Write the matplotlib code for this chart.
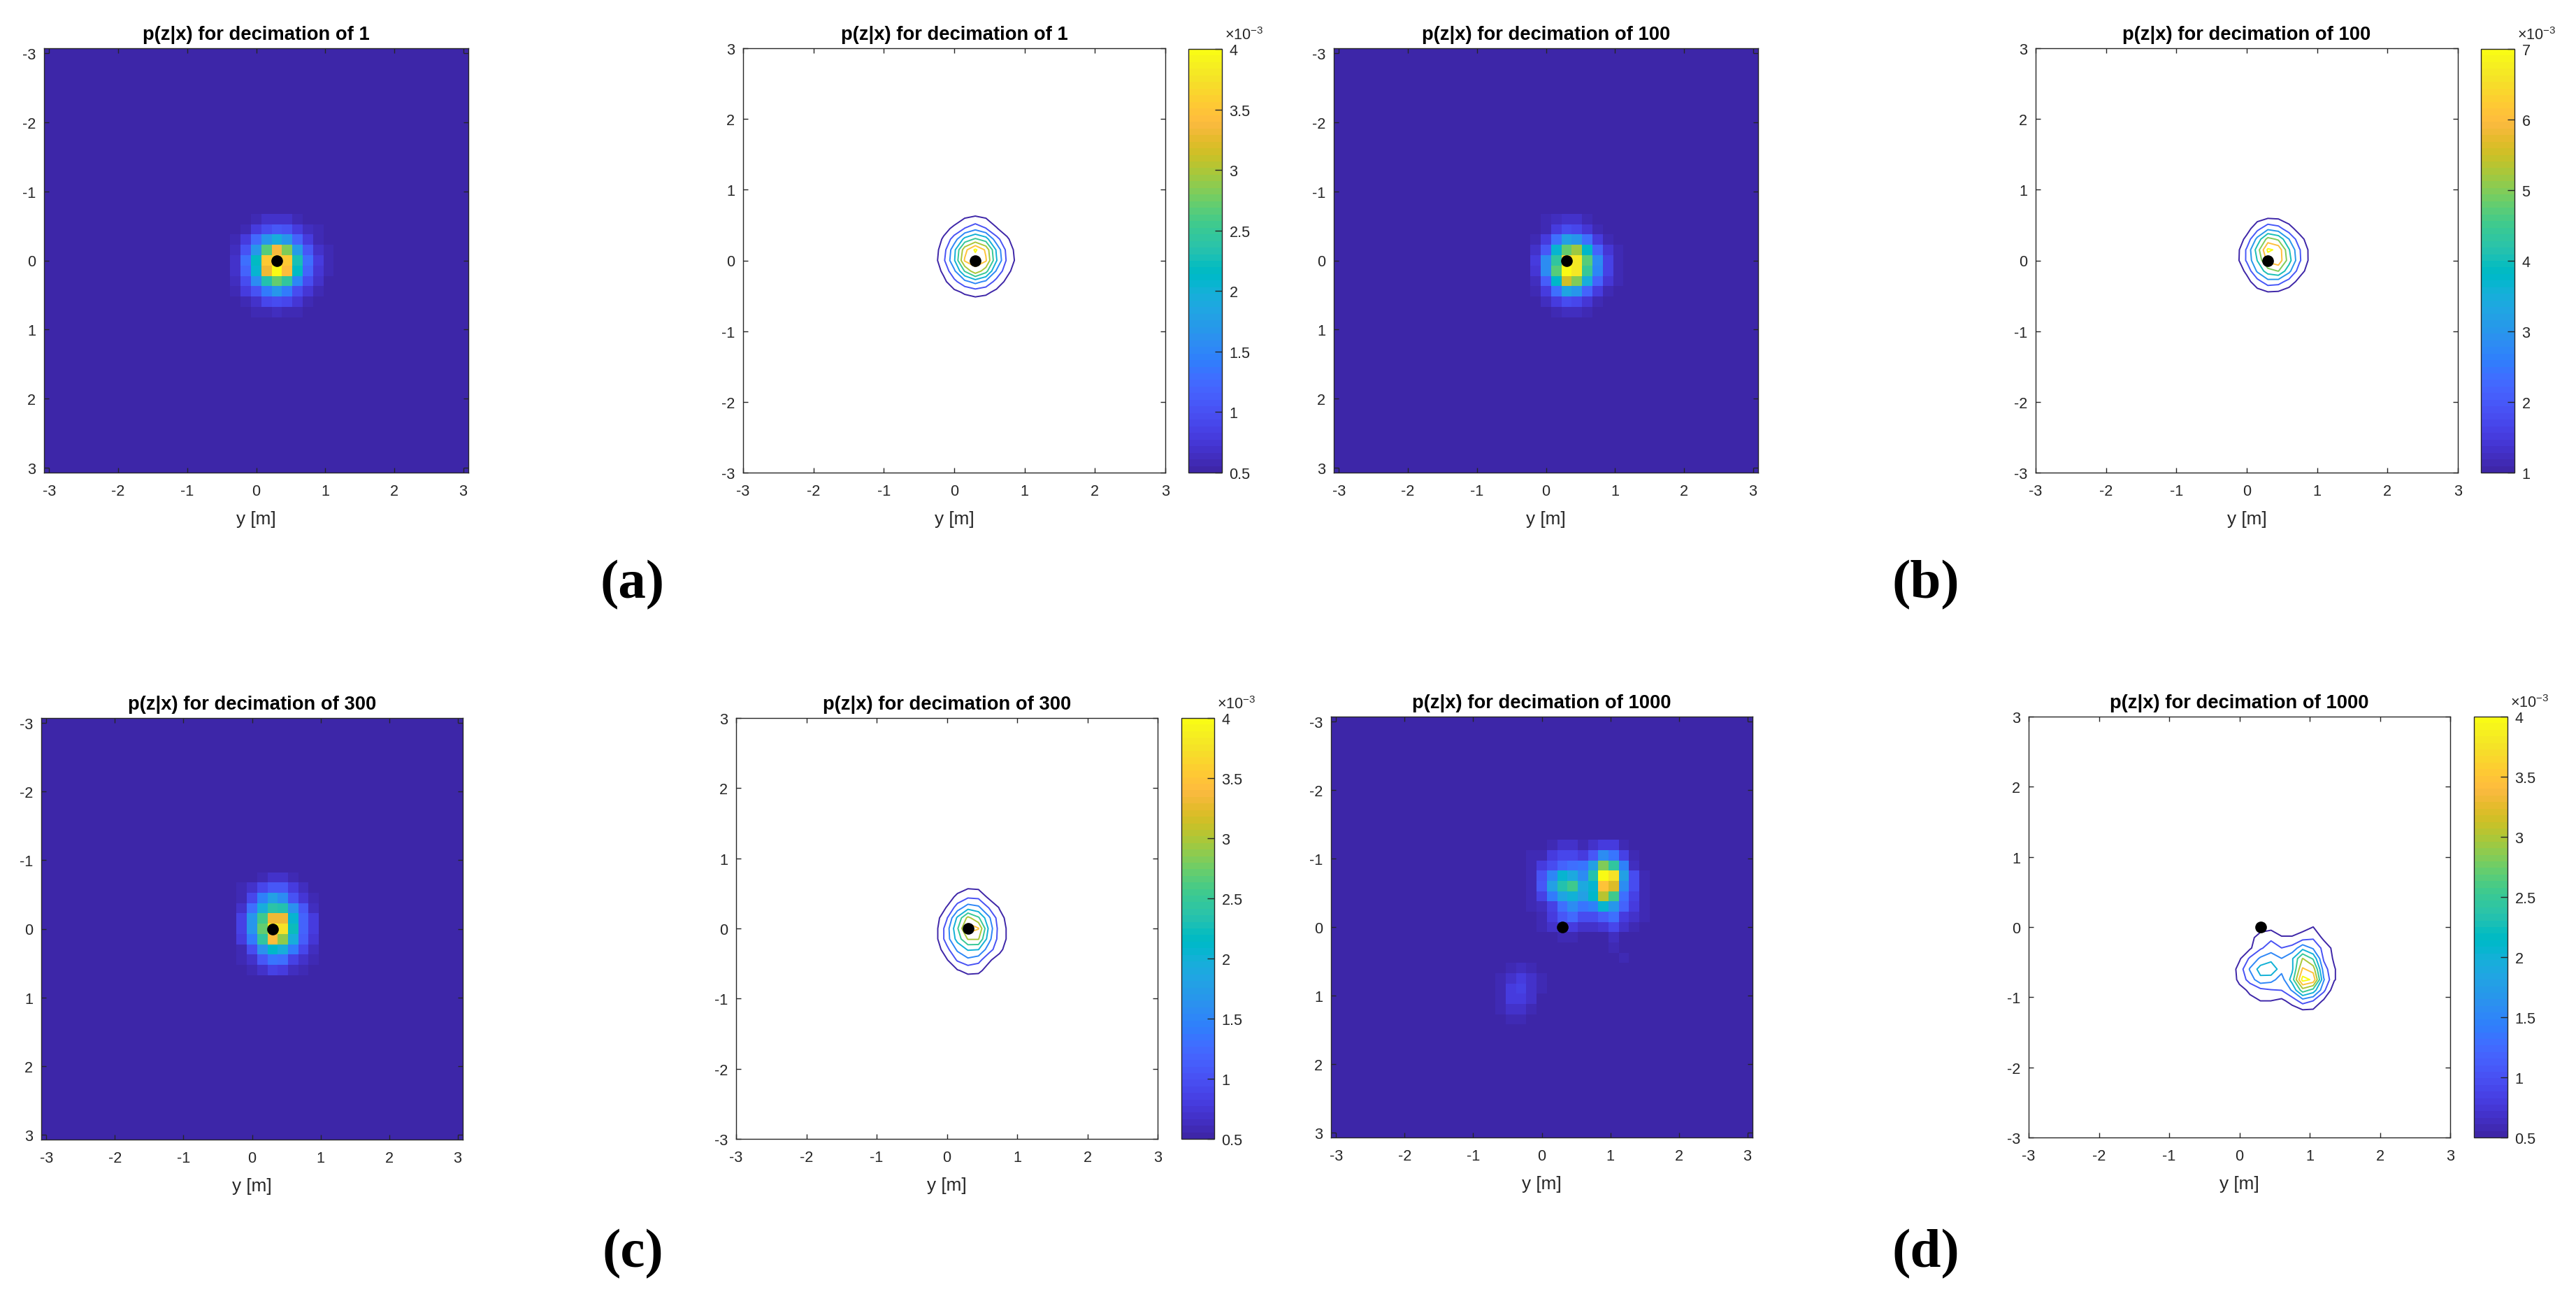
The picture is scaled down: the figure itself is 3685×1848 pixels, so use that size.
import numpy as np
import matplotlib
matplotlib.use("Agg")
import matplotlib.pyplot as plt
from matplotlib.colors import ListedColormap, Normalize
from matplotlib.cm import ScalarMappable

plt.rcParams['font.family'] = ['Liberation Sans', 'DejaVu Sans']
plt.rcParams['mathtext.fontset'] = 'custom'
plt.rcParams['mathtext.rm'] = 'Liberation Sans'
plt.rcParams['axes.unicode_minus'] = False

# ======================================================
# DATA (heatmap cells around the peak, as fraction of the peak)
# ======================================================
grid = np.arange(-3, 3.01, 0.15)
decimations = [1, 100, 300, 1000]
subfig_labels = ['(a)', '(b)', '(c)', '(d)']
point_xy = (0.3, 0.0)
peaks = [4.1, 7.2, 3.8, 4.2]          # x 10^-3
level_lists = [
    [0.5, 1, 1.5, 2, 2.5, 3, 3.5, 4],
    [1, 2, 3, 4, 5, 6, 7],
    [0.5, 1, 1.5, 2, 2.5, 3, 3.5, 4],
    [0.5, 1, 1.5, 2, 2.5, 3, 3.5, 4],
]
cbar_ticks = [
    [0.5, 1, 1.5, 2, 2.5, 3, 3.5, 4],
    [1, 2, 3, 4, 5, 6, 7],
    [0.5, 1, 1.5, 2, 2.5, 3, 3.5, 4],
    [0.5, 1, 1.5, 2, 2.5, 3, 3.5, 4],
]

# first column / first row index of each patch in the 41x41 grid
a_start = (17, 16)
a_vals = [
    [0, 0, 0, .03, .05, .06, .05, .02, 0, 0, 0],
    [0, 0, .03, .09, .14, .17, .15, .09, .04, .02, 0],
    [0, .02, .09, .21, .33, .41, .34, .20, .09, .03, 0],
    [0, .04, .15, .34, .62, .82, .66, .35, .16, .05, .02],
    [.015, .05, .22, .47, .87, .90, .87, .50, .22, .08, .02],
    [0, .05, .19, .45, .81, 1.0, .83, .47, .20, .07, .02],
    [0, .04, .14, .30, .53, .63, .55, .29, .14, .05, .01],
    [0, .02, .08, .15, .25, .33, .25, .13, .07, .02, 0],
    [0, 0, .03, .06, .12, .14, .12, .07, .03, 0, 0],
    [0, 0, 0, .02, .03, .04, .03, .02, 0, 0, 0],
]

b_start = (19, 16)
b_vals = [
    [0, .02, .04, .05, .05, .02, 0, 0, 0],
    [.015, .03, .09, .13, .12, .07, .03, .015, 0],
    [.02, .09, .22, .36, .34, .22, .09, .03, .015],
    [.05, .17, .44, .63, .70, .46, .20, .07, .02],
    [.08, .30, .56, .88, .94, .62, .30, .10, .03],
    [.07, .30, .62, 1.0, .94, .57, .29, .10, .03],
    [.04, .18, .46, .75, .67, .42, .19, .07, .02],
    [.02, .08, .23, .38, .33, .19, .08, .03, .01],
    [0, .04, .09, .13, .12, .07, .03, .015, 0],
    [0, .01, .03, .04, .04, .03, .01, 0, 0],
]

c_start = (18, 14)
c_vals = [
    [0, 0, 0, 0, .015, .015, 0, 0, 0, 0],
    [0, 0, .015, .03, .06, .06, .03, .015, 0, 0],
    [0, .02, .05, .12, .17, .16, .08, .04, .015, 0],
    [0, .03, .12, .28, .36, .31, .15, .07, .02, 0],
    [.01, .06, .22, .42, .54, .53, .32, .17, .04, .015],
    [.015, .10, .33, .58, .80, .80, .44, .20, .09, .015],
    [.015, .10, .33, .64, 1.0, .93, .49, .20, .09, .015],
    [.015, .08, .25, .55, .83, .68, .42, .18, .07, .015],
    [0, .03, .14, .32, .46, .42, .25, .12, .04, .01],
    [0, .02, .05, .17, .24, .23, .10, .05, .02, 0],
    [0, 0, .02, .05, .10, .09, .04, .02, 0, 0],
    [0, 0, 0, 0, .01, .01, .01, 0, 0, 0],
]

d_start = (15, 12)
d_vals = [
    [0, 0, 0, 0, 0, 0, .03, .05, .05, .03, .05, .09, .09, .02, 0, 0],
    [0, 0, 0, 0, .02, .03, .09, .12, .12, .09, .17, .30, .24, .10, .02, 0],
    [0, 0, 0, .01, .03, .08, .14, .20, .23, .24, .37, .66, .55, .27, .04, 0],
    [0, 0, 0, .01, .03, .15, .29, .44, .40, .30, .53, 1.0, .93, .37, .13, .03],
    [0, 0, 0, .01, .02, .17, .37, .53, .58, .40, .45, .85, .78, .30, .13, .03],
    [0, 0, 0, .01, .03, .10, .26, .38, .43, .36, .46, .72, .58, .22, .10, .03],
    [0, 0, 0, 0, .02, .04, .10, .22, .30, .24, .28, .44, .34, .20, .08, .03],
    [0, 0, 0, 0, 0, .03, .09, .16, .21, .13, .13, .18, .22, .09, .05, .02],
    [0, 0, 0, 0, 0, .02, .06, .08, .08, .05, .05, .07, .12, .05, .03, 0],
    [0, 0, 0, 0, 0, .01, .01, .03, .03, .01, .01, .01, .04, .01, 0, 0],
    [0, 0, 0, 0, 0, 0, 0, 0, 0, 0, 0, 0, .02, .005, 0, 0],
    [0, 0, 0, 0, 0, 0, 0, 0, 0, 0, 0, 0, 0, .02, 0, 0],
    [0, .015, .02, .04, .02, 0, 0, 0, 0, 0, 0, 0, 0, 0, 0, 0],
    [0, .02, .05, .08, .05, .02, 0, 0, 0, 0, 0, 0, 0, 0, 0, 0],
    [.015, .03, .085, .095, .05, .02, 0, 0, 0, 0, 0, 0, 0, 0, 0, 0],
    [.015, .03, .08, .08, .05, 0, 0, 0, 0, 0, 0, 0, 0, 0, 0, 0],
    [0, .02, .05, .05, .03, 0, 0, 0, 0, 0, 0, 0, 0, 0, 0, 0],
    [0, .012, .02, .02, 0, 0, 0, 0, 0, 0, 0, 0, 0, 0, 0, 0],
]

patches = [(a_start, a_vals), (b_start, b_vals), (c_start, c_vals), (d_start, d_vals)]

# parula, as shipped by matlab
parula = ListedColormap([
    [0.2422, 0.1504, 0.6603], [0.2504, 0.1650, 0.7076], [0.2578, 0.1818, 0.7511], [0.2647, 0.1978, 0.7952],
    [0.2706, 0.2147, 0.8364], [0.2751, 0.2342, 0.8710], [0.2783, 0.2559, 0.8991], [0.2803, 0.2782, 0.9221],
    [0.2813, 0.3006, 0.9414], [0.2810, 0.3228, 0.9579], [0.2795, 0.3447, 0.9717], [0.2760, 0.3667, 0.9829],
    [0.2699, 0.3892, 0.9906], [0.2602, 0.4123, 0.9952], [0.2440, 0.4358, 0.9988], [0.2206, 0.4603, 0.9973],
    [0.1963, 0.4847, 0.9892], [0.1834, 0.5074, 0.9798], [0.1786, 0.5289, 0.9682], [0.1764, 0.5499, 0.9520],
    [0.1687, 0.5703, 0.9359], [0.1540, 0.5902, 0.9218], [0.1460, 0.6091, 0.9079], [0.1380, 0.6276, 0.8973],
    [0.1248, 0.6459, 0.8883], [0.1113, 0.6635, 0.8763], [0.0952, 0.6798, 0.8598], [0.0689, 0.6948, 0.8394],
    [0.0297, 0.7082, 0.8163], [0.0036, 0.7203, 0.7917], [0.0067, 0.7312, 0.7660], [0.0433, 0.7411, 0.7394],
    [0.0964, 0.7500, 0.7120], [0.1408, 0.7584, 0.6842], [0.1717, 0.7670, 0.6554], [0.1938, 0.7758, 0.6251],
    [0.2161, 0.7843, 0.5923], [0.2470, 0.7918, 0.5567], [0.2906, 0.7973, 0.5188], [0.3406, 0.8008, 0.4789],
    [0.3909, 0.8029, 0.4354], [0.4456, 0.8024, 0.3909], [0.5044, 0.7993, 0.3480], [0.5616, 0.7942, 0.3045],
    [0.6174, 0.7876, 0.2612], [0.6720, 0.7793, 0.2227], [0.7242, 0.7698, 0.1910], [0.7738, 0.7598, 0.1646],
    [0.8203, 0.7498, 0.1535], [0.8634, 0.7406, 0.1596], [0.9035, 0.7330, 0.1774], [0.9393, 0.7288, 0.2100],
    [0.9728, 0.7298, 0.2394], [0.9956, 0.7434, 0.2371], [0.9970, 0.7659, 0.2199], [0.9952, 0.7893, 0.2028],
    [0.9892, 0.8136, 0.1885], [0.9786, 0.8386, 0.1766], [0.9676, 0.8639, 0.1643], [0.9610, 0.8890, 0.1537],
    [0.9597, 0.9135, 0.1423], [0.9628, 0.9373, 0.1265], [0.9691, 0.9606, 0.1064], [0.9769, 0.9839, 0.0805],
])

# ======================================================
# LAYOUT (pixels: left, right, top, bottom)
# ======================================================
W, H = 3685, 1849
image_boxes = [(63, 670, 70, 677), (1908, 2515, 70, 677), (59, 662, 1028, 1631), (1904, 2507, 1026, 1628)]
contour_boxes = [(1063, 1667, 70, 677), (2912, 3516, 70, 677), (1053, 1656, 1028, 1630), (2902, 3505, 1026, 1628)]
cbar_boxes = [(1700, 1748, 71, 677), (3549, 3597, 71, 677), (1690, 1737, 1028, 1630), (3539, 3587, 1026, 1628)]
label_pos = [(905, 837), (2755, 837), (905, 1794), (2755, 1794)]

fig = plt.figure(figsize=(W / 100, H / 100), dpi=100)


def add_box(box):
    l, r, t, b = box
    return fig.add_axes([l / W, 1 - b / H, (r - l) / W, (b - t) / H])


def style(ax):
    ax.tick_params(direction='in', length=5, width=1.0, color='#262626', labelcolor='#262626',
                   labelsize=15.6, top=True, right=True)
    ax.tick_params(axis='x', pad=11.5)
    ax.tick_params(axis='y', pad=8.5)
    for s in ax.spines.values():
        s.set_linewidth(1.0)
        s.set_color('#262626')
    ax.set_xticks(np.arange(-3, 4))
    ax.set_yticks(np.arange(-3, 4))
    ax.set_xlabel('y [m]', fontsize=18.8, color='#262626', labelpad=12)


# ======================================================
# DRAW PANELS
# ======================================================
for k, ((i0, j0), vals) in enumerate(patches):
    vals = np.array(vals)
    z = np.zeros((grid.size, grid.size))
    z[j0:j0 + vals.shape[0], i0:i0 + vals.shape[1]] = vals * peaks[k]
    title = f'p(z|x) for decimation of {decimations[k]}'

    # image panel
    ax = add_box(image_boxes[k])
    ax.imshow(z, extent=(-3.075, 3.075, 3.075, -3.075), aspect='auto', cmap=parula,
              vmin=z.min(), vmax=z.max(), interpolation='nearest')
    ax.plot(point_xy[0], point_xy[1], 'o', color='black', ms=12, mew=0)
    style(ax)
    ax.set_title(title, fontsize=19.7, fontweight='bold', color='black', pad=9.5)

    # contour panel
    levels = level_lists[k]
    ax = add_box(contour_boxes[k])
    ax.contour(grid, grid, z, levels=levels, cmap=parula, vmin=levels[0], vmax=levels[-1], linewidths=1.4)
    ax.plot(point_xy[0], point_xy[1], 'o', color='black', ms=12, mew=0)
    ax.set_xlim(-3, 3)
    ax.set_ylim(-3, 3)
    style(ax)
    ax.set_title(title, fontsize=19.7, fontweight='bold', color='black', pad=9.5)

    # colorbar
    cax = add_box(cbar_boxes[k])
    sm = ScalarMappable(norm=Normalize(levels[0], levels[-1]), cmap=parula)
    cb = fig.colorbar(sm, cax=cax)
    cb.set_ticks(cbar_ticks[k])
    cb.set_ticklabels([f'{t:g}' for t in cbar_ticks[k]])
    cb.ax.tick_params(direction='in', length=7, width=1.0, color='#262626', labelcolor='#262626',
                      labelsize=15.6, pad=7.5)
    cb.outline.set_linewidth(1.0)
    cb.outline.set_edgecolor('#262626')
    cax.annotate(r'$\times\mathdefault{10^{-3}}$', xy=(1, 1), xycoords='axes fraction', xytext=(3, 10),
                 textcoords='offset points', fontsize=15.6, color='#262626', ha='left', va='baseline')

    # (a) (b) (c) (d)
    x, y = label_pos[k]
    fig.text(x / W, 1 - y / H, subfig_labels[k], fontsize=57, fontweight='bold', family='Liberation Serif',
             ha='center', va='center', color='black')

plt.savefig('out.png', dpi=100)
